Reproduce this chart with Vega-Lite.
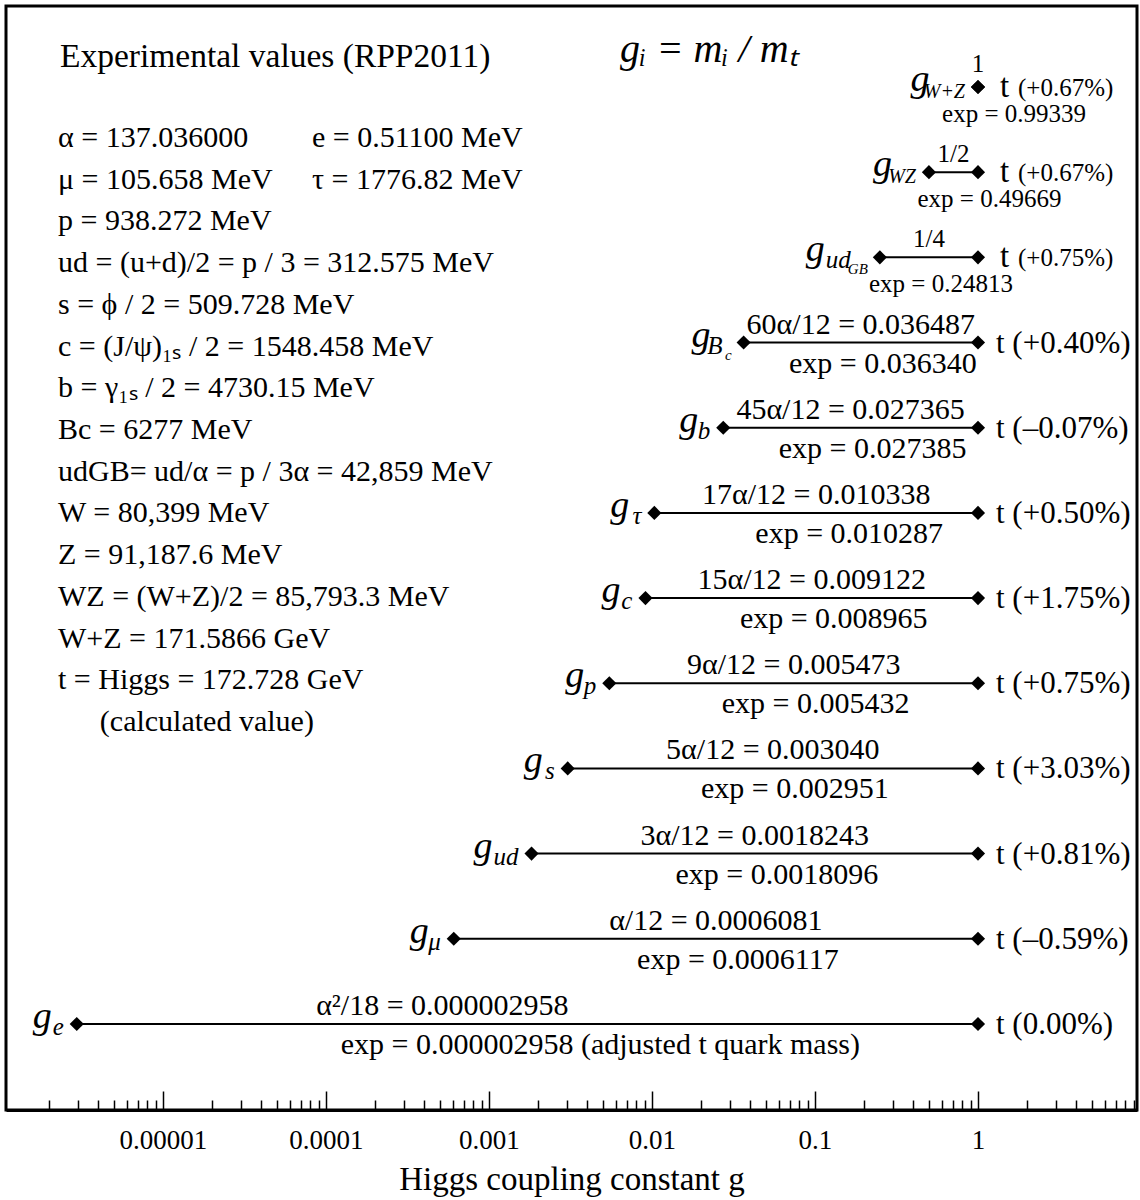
{
  "$schema": "https://vega.github.io/schema/vega-lite/v6.json",
  "width": 1131,
  "height": 1104,
  "autosize": {"type": "none"},
  "padding": {"left": 6, "top": 6, "right": 3, "bottom": 90},
  "background": "white",
  "config": {
    "view": {"stroke": "black", "strokeWidth": 3},
    "text": {"font": "Liberation Serif", "color": "black"}
  },
  "datasets": {
    "rows": [
      {"row": 1, "sub": "W+Z", "subsub": "", "lo": 1, "hi": 1, "above": "1", "below": "exp = 0.99339", "pct": "(+0.67%)"},
      {"row": 2, "sub": "WZ", "subsub": "", "lo": 0.5, "hi": 1, "above": "1/2", "below": "exp = 0.49669", "pct": "(+0.67%)"},
      {"row": 3, "sub": "ud", "subsub": "GB", "lo": 0.25, "hi": 1, "above": "1/4", "below": "exp = 0.24813", "pct": "(+0.75%)"},
      {"row": 4, "sub": "B", "subsub": "c", "lo": 0.036487, "hi": 1, "above": "60α/12 = 0.036487", "below": "exp = 0.036340", "pct": "(+0.40%)"},
      {"row": 5, "sub": "b", "subsub": "", "lo": 0.027365, "hi": 1, "above": "45α/12 = 0.027365", "below": "exp = 0.027385", "pct": "(–0.07%)"},
      {"row": 6, "sub": "τ", "subsub": "", "lo": 0.010338, "hi": 1, "above": "17α/12 = 0.010338", "below": "exp = 0.010287", "pct": "(+0.50%)"},
      {"row": 7, "sub": "c", "subsub": "", "lo": 0.009122, "hi": 1, "above": "15α/12 = 0.009122", "below": "exp = 0.008965", "pct": "(+1.75%)"},
      {"row": 8, "sub": "p", "subsub": "", "lo": 0.005473, "hi": 1, "above": "9α/12 = 0.005473", "below": "exp = 0.005432", "pct": "(+0.75%)"},
      {"row": 9, "sub": "s", "subsub": "", "lo": 0.00304, "hi": 1, "above": "5α/12 = 0.003040", "below": "exp = 0.002951", "pct": "(+3.03%)"},
      {"row": 10, "sub": "ud", "subsub": "", "lo": 0.0018243, "hi": 1, "above": "3α/12 = 0.0018243", "below": "exp = 0.0018096", "pct": "(+0.81%)"},
      {"row": 11, "sub": "μ", "subsub": "", "lo": 0.0006081, "hi": 1, "above": "α/12 = 0.0006081", "below": "exp = 0.0006117", "pct": "(–0.59%)"},
      {"row": 12, "sub": "e", "subsub": "", "lo": 0.000002958, "hi": 1, "above": "α²/18 = 0.000002958", "below": "exp = 0.000002958  (adjusted t quark mass)", "pct": "(0.00%)"}
    ],
    "block": [
      {"line": 1, "col": 1, "text": "α = 137.036000"},
      {"line": 1, "col": 2, "text": "e = 0.51100 MeV"},
      {"line": 2, "col": 1, "text": "μ = 105.658 MeV"},
      {"line": 2, "col": 2, "text": "τ = 1776.82 MeV"},
      {"line": 3, "col": 1, "text": "p = 938.272 MeV"},
      {"line": 4, "col": 1, "text": "ud = (u+d)/2 = p / 3 = 312.575 MeV"},
      {"line": 5, "col": 1, "text": "s = ϕ / 2 = 509.728 MeV"},
      {"line": 6, "col": 1, "text": "c = (J/ψ)₁ₛ / 2 = 1548.458 MeV"},
      {"line": 7, "col": 1, "text": "b = γ₁ₛ / 2 = 4730.15 MeV"},
      {"line": 8, "col": 1, "text": "Bc = 6277 MeV"},
      {"line": 9, "col": 1, "text": "udGB= ud/α = p / 3α = 42,859 MeV"},
      {"line": 10, "col": 1, "text": "W = 80,399 MeV"},
      {"line": 11, "col": 1, "text": "Z = 91,187.6 MeV"},
      {"line": 12, "col": 1, "text": "WZ = (W+Z)/2 = 85,793.3 MeV"},
      {"line": 13, "col": 1, "text": "W+Z = 171.5866 GeV"},
      {"line": 14, "col": 1, "text": "t = Higgs = 172.728 GeV"},
      {"line": 15, "col": 3, "text": "(calculated value)"}
    ]
  },
  "resolve": {"scale": {"y": "independent"}, "axis": {"x": "independent"}},
  "layer": [
    {
      "data": {"name": "rows"},
      "mark": {"type": "rule", "strokeWidth": 2, "color": "black"},
      "encoding": {
        "x": {
          "field": "lo", "type": "quantitative",
          "scale": {"type": "log", "domain": [1.089e-6, 9.45], "nice": false},
          "axis": {
            "orient": "bottom",
            "grid": false,
            "domain": true, "domainColor": "black", "domainWidth": 3,
            "ticks": false, "tickSize": 0,
            "values": [1e-5, 1e-4, 0.001, 0.01, 0.1, 1],
            "labelExpr": "format(datum.value, '~f')",
            "labelFont": "Liberation Serif", "labelFontSize": 27, "labelColor": "black",
            "labelPadding": 17, "labelOverlap": false, "labelFlush": false,
            "title": "Higgs coupling constant g",
            "titleFont": "Liberation Serif", "titleFontSize": 33, "titleFontWeight": "normal", "titleColor": "black",
            "titlePadding": 10
          }
        },
        "x2": {"field": "hi"},
        "y": {"field": "row", "type": "quantitative", "scale": {"domain": [0.049, 13.01], "reverse": true, "nice": false, "zero": false}, "axis": null}
      }
    },
    {
      "data": {"name": "rows"},
      "mark": {"type": "point", "shape": "diamond", "filled": true, "size": 200, "color": "black", "opacity": 1},
      "encoding": {
        "x": {
          "field": "lo", "type": "quantitative",
          "scale": {"type": "log", "domain": [1.089e-6, 9.45], "nice": false},
          "axis": {
            "orient": "top",
            "offset": -1104,
            "grid": false,
            "domain": false,
            "ticks": true, "tickColor": "black", "tickWidth": 1.5,
            "tickSize": {"condition": {"test": "abs(log(datum.value)/LN10 - round(log(datum.value)/LN10)) < 0.0001", "value": 19}, "value": 10},
            "values": [2e-6, 3e-6, 4e-6, 5e-6, 6e-6, 7e-6, 8e-6, 9e-6,
                       1e-5, 2e-5, 3e-5, 4e-5, 5e-5, 6e-5, 7e-5, 8e-5, 9e-5,
                       1e-4, 2e-4, 3e-4, 4e-4, 5e-4, 6e-4, 7e-4, 8e-4, 9e-4,
                       0.001, 0.002, 0.003, 0.004, 0.005, 0.006, 0.007, 0.008, 0.009,
                       0.01, 0.02, 0.03, 0.04, 0.05, 0.06, 0.07, 0.08, 0.09,
                       0.1, 0.2, 0.3, 0.4, 0.5, 0.6, 0.7, 0.8, 0.9,
                       1, 2, 3, 4, 5, 6, 7, 8, 9],
            "labels": false,
            "title": null
          }
        },
        "y": {"field": "row", "type": "quantitative", "scale": {"domain": [0.049, 13.01], "reverse": true, "nice": false, "zero": false}, "axis": null}
      }
    },
    {
      "data": {"name": "rows"},
      "mark": {"type": "point", "shape": "diamond", "filled": true, "size": 200, "color": "black", "opacity": 1},
      "encoding": {
        "x": {"field": "hi", "type": "quantitative", "scale": {"type": "log", "domain": [1.089e-6, 9.45], "nice": false}, "axis": null},
        "y": {"field": "row", "type": "quantitative", "scale": {"domain": [0.049, 13.01], "reverse": true, "nice": false, "zero": false}, "axis": null}
      }
    },
    {
      "data": {"name": "rows"},
      "mark": {"type": "text", "align": "right", "baseline": "alphabetic", "fontStyle": "italic", "fontSize": 38, "dy": 4,
               "dx": {"expr": "-14 - 8*length(datum.subsub) - (datum.row <= 2 ? 11.5*length(datum.sub) : (length(datum.sub) == 1 ? 11 : 12.5*length(datum.sub)))"}},
      "encoding": {
        "x": {"field": "lo", "type": "quantitative", "scale": {"type": "log", "domain": [1.089e-6, 9.45], "nice": false}, "axis": null},
        "y": {"field": "row", "type": "quantitative", "scale": {"domain": [0.049, 13.01], "reverse": true, "nice": false, "zero": false}, "axis": null},
        "text": {"value": "g"}
      }
    },
    {
      "data": {"name": "rows"},
      "mark": {"type": "text", "align": "right", "baseline": "alphabetic", "fontStyle": "italic", "dy": 11,
               "dx": {"expr": "-13 - 8*length(datum.subsub)"}},
      "encoding": {
        "x": {"field": "lo", "type": "quantitative", "scale": {"type": "log", "domain": [1.089e-6, 9.45], "nice": false}, "axis": null},
        "y": {"field": "row", "type": "quantitative", "scale": {"domain": [0.049, 13.01], "reverse": true, "nice": false, "zero": false}, "axis": null},
        "text": {"field": "sub"},
        "size": {"condition": {"test": "datum.row <= 2", "value": 20}, "value": 25}
      }
    },
    {
      "data": {"name": "rows"},
      "transform": [{"filter": "datum.subsub != ''"}],
      "mark": {"type": "text", "align": "right", "baseline": "alphabetic", "fontStyle": "italic", "fontSize": 15, "dy": 17, "dx": -12},
      "encoding": {
        "x": {"field": "lo", "type": "quantitative", "scale": {"type": "log", "domain": [1.089e-6, 9.45], "nice": false}, "axis": null},
        "y": {"field": "row", "type": "quantitative", "scale": {"domain": [0.049, 13.01], "reverse": true, "nice": false, "zero": false}, "axis": null},
        "text": {"field": "subsub"}
      }
    },
    {
      "data": {"name": "rows"},
      "transform": [{"calculate": "sqrt(datum.lo * datum.hi)", "as": "mid"}],
      "mark": {"type": "text", "align": "center", "baseline": "middle",
               "dy": {"expr": "datum.row == 1 ? -23 : -18"},
               "dx": {"expr": "datum.row == 12 ? -85 : 0"}},
      "encoding": {
        "x": {"field": "mid", "type": "quantitative", "scale": {"type": "log", "domain": [1.089e-6, 9.45], "nice": false}, "axis": null},
        "y": {"field": "row", "type": "quantitative", "scale": {"domain": [0.049, 13.01], "reverse": true, "nice": false, "zero": false}, "axis": null},
        "text": {"field": "above"},
        "size": {"condition": {"test": "datum.row <= 3", "value": 25}, "value": 30}
      }
    },
    {
      "data": {"name": "rows"},
      "transform": [{"calculate": "sqrt(datum.lo * datum.hi)", "as": "mid"}],
      "mark": {"type": "text", "align": "center", "baseline": "middle",
               "dy": {"expr": "datum.row <= 3 ? 27 : 21"},
               "dx": {"expr": "datum.row == 12 ? 73 : (datum.row == 3 ? 12 : (datum.row <= 2 ? 36 : (datum.row == 6 ? 33 : 22)))"}},
      "encoding": {
        "x": {"field": "mid", "type": "quantitative", "scale": {"type": "log", "domain": [1.089e-6, 9.45], "nice": false}, "axis": null},
        "y": {"field": "row", "type": "quantitative", "scale": {"domain": [0.049, 13.01], "reverse": true, "nice": false, "zero": false}, "axis": null},
        "text": {"field": "below"},
        "size": {"condition": {"test": "datum.row <= 3", "value": 25}, "value": 30}
      }
    },
    {
      "data": {"name": "rows"},
      "transform": [{"filter": "datum.row >= 4"}, {"calculate": "'t ' + datum.pct", "as": "tl"}],
      "mark": {"type": "text", "align": "left", "baseline": "middle", "fontSize": 31, "dx": 18, "dy": 1},
      "encoding": {
        "x": {"field": "hi", "type": "quantitative", "scale": {"type": "log", "domain": [1.089e-6, 9.45], "nice": false}, "axis": null},
        "y": {"field": "row", "type": "quantitative", "scale": {"domain": [0.049, 13.01], "reverse": true, "nice": false, "zero": false}, "axis": null},
        "text": {"field": "tl"}
      }
    },
    {
      "data": {"name": "rows"},
      "transform": [{"filter": "datum.row <= 3"}],
      "mark": {"type": "text", "align": "left", "baseline": "middle", "fontSize": 33, "dx": 22, "dy": 0},
      "encoding": {
        "x": {"field": "hi", "type": "quantitative", "scale": {"type": "log", "domain": [1.089e-6, 9.45], "nice": false}, "axis": null},
        "y": {"field": "row", "type": "quantitative", "scale": {"domain": [0.049, 13.01], "reverse": true, "nice": false, "zero": false}, "axis": null},
        "text": {"value": "t"}
      }
    },
    {
      "data": {"name": "rows"},
      "transform": [{"filter": "datum.row <= 3"}],
      "mark": {"type": "text", "align": "left", "baseline": "middle", "fontSize": 25, "dx": 40, "dy": 1},
      "encoding": {
        "x": {"field": "hi", "type": "quantitative", "scale": {"type": "log", "domain": [1.089e-6, 9.45], "nice": false}, "axis": null},
        "y": {"field": "row", "type": "quantitative", "scale": {"domain": [0.049, 13.01], "reverse": true, "nice": false, "zero": false}, "axis": null},
        "text": {"field": "pct"}
      }
    },
    {
      "data": {"name": "block"},
      "transform": [{"filter": "datum.col == 1"}],
      "mark": {"type": "text", "align": "left", "baseline": "middle", "fontSize": 30},
      "encoding": {
        "x": {"datum": 2.27e-6, "type": "quantitative", "scale": {"type": "log", "domain": [1.089e-6, 9.45], "nice": false}, "axis": null},
        "y": {"field": "line", "type": "quantitative", "scale": {"domain": [-2.164, 24.298], "reverse": true, "nice": false, "zero": false}, "axis": null},
        "text": {"field": "text"}
      }
    },
    {
      "data": {"name": "block"},
      "transform": [{"filter": "datum.col == 2"}],
      "mark": {"type": "text", "align": "left", "baseline": "middle", "fontSize": 30},
      "encoding": {
        "x": {"datum": 8.2e-5, "type": "quantitative", "scale": {"type": "log", "domain": [1.089e-6, 9.45], "nice": false}, "axis": null},
        "y": {"field": "line", "type": "quantitative", "scale": {"domain": [-2.164, 24.298], "reverse": true, "nice": false, "zero": false}, "axis": null},
        "text": {"field": "text"}
      }
    },
    {
      "data": {"name": "block"},
      "transform": [{"filter": "datum.col == 3"}],
      "mark": {"type": "text", "align": "left", "baseline": "middle", "fontSize": 30},
      "encoding": {
        "x": {"datum": 4.1e-6, "type": "quantitative", "scale": {"type": "log", "domain": [1.089e-6, 9.45], "nice": false}, "axis": null},
        "y": {"field": "line", "type": "quantitative", "scale": {"domain": [-2.164, 24.298], "reverse": true, "nice": false, "zero": false}, "axis": null},
        "text": {"field": "text"}
      }
    },
    {
      "data": {"values": [{"text": "Experimental values (RPP2011)"}]},
      "mark": {"type": "text", "align": "left", "baseline": "middle", "fontSize": 33.5},
      "encoding": {
        "x": {"datum": 2.333e-6, "type": "quantitative", "scale": {"type": "log", "domain": [1.089e-6, 9.45], "nice": false}, "axis": null},
        "y": {"datum": -0.942, "type": "quantitative", "scale": {"domain": [-2.164, 24.298], "reverse": true, "nice": false, "zero": false}, "axis": null},
        "text": {"field": "text"}
      }
    },
    {
      "data": {"values": [{"text": "gᵢ = mᵢ  / mₜ"}]},
      "mark": {"type": "text", "align": "left", "baseline": "middle", "fontSize": 40, "fontStyle": "italic"},
      "encoding": {
        "x": {"datum": 0.00637, "type": "quantitative", "scale": {"type": "log", "domain": [1.089e-6, 9.45], "nice": false}, "axis": null},
        "y": {"datum": -1.109, "type": "quantitative", "scale": {"domain": [-2.164, 24.298], "reverse": true, "nice": false, "zero": false}, "axis": null},
        "text": {"field": "text"}
      }
    }
  ]
}
